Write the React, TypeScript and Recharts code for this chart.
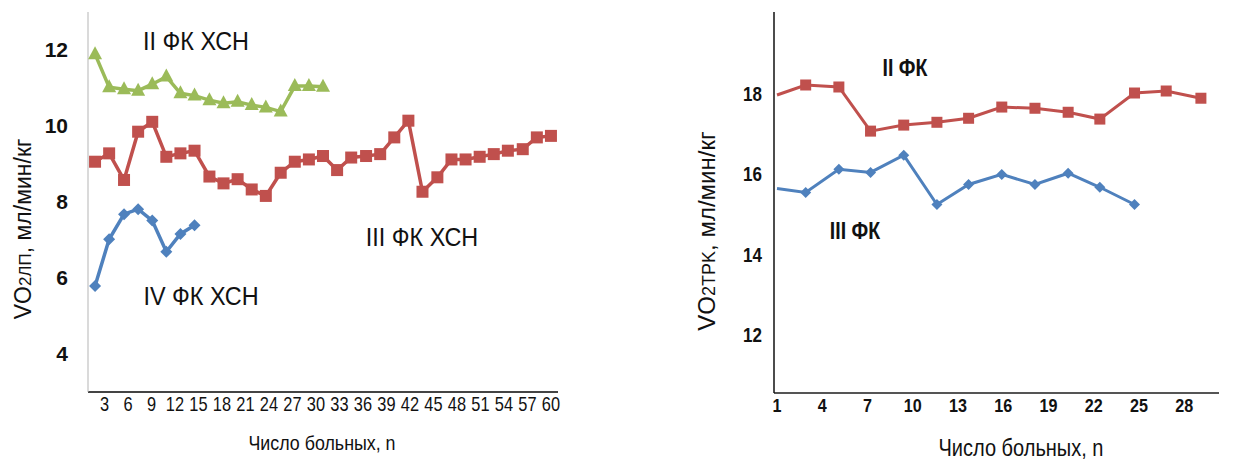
import { LineChart, Line, XAxis, YAxis, Customized } from "recharts";

// left chart: VO2 ЛП by number of patients, three FC groups
const leftN = [1.8, 3.6, 5.5, 7.3, 9.1, 10.9, 12.7, 14.5, 16.4, 18.2, 20, 21.8, 23.6, 25.5, 27.3, 29.1, 30.9, 32.7, 34.5, 36.4, 38.2, 40, 41.8, 43.6, 45.5, 47.3, 49.1, 50.9, 52.7, 54.5, 56.4, 58.2, 60];
const fc2Left = [11.89, 11.02, 10.97, 10.93, 11.1, 11.3, 10.86, 10.8, 10.68, 10.6, 10.64, 10.55, 10.49, 10.38, 11.05, 11.05, 11.03];
const fc3Left = [9.06, 9.28, 8.58, 9.85, 10.11, 9.19, 9.28, 9.35, 8.67, 8.49, 8.6, 8.33, 8.16, 8.77, 9.06, 9.12, 9.21, 8.84, 9.17, 9.21, 9.26, 9.7, 10.14, 8.27, 8.65, 9.12, 9.12, 9.19, 9.26, 9.35, 9.39, 9.7, 9.74];
const fc4Left = [5.79, 7.02, 7.68, 7.81, 7.51, 6.69, 7.16, 7.39];
const leftXTicks = [3, 6, 9, 12, 15, 18, 21, 24, 27, 30, 33, 36, 39, 42, 45, 48, 51, 54, 57, 60];
const leftYTicks = [4, 6, 8, 10, 12];

// right chart: VO2 ТРК
const rightN = [1, 2.9, 5.1, 7.2, 9.4, 11.6, 13.7, 15.9, 18.1, 20.3, 22.4, 24.7, 26.8, 29.1];
const fc2Right = [17.98, 18.23, 18.18, 17.08, 17.23, 17.3, 17.4, 17.68, 17.65, 17.55, 17.38, 18.03, 18.08, 17.9];
const fc3Right = [15.65, 15.55, 16.13, 16.05, 16.48, 15.25, 15.75, 16.0, 15.75, 16.03, 15.68, 15.25];
const rightXTicks = [1, 4, 7, 10, 13, 16, 19, 22, 25, 28];
const rightYTicks = [12, 14, 16, 18];

const GREEN = "#9BBB59";
const RED = "#C0504D";
const BLUE = "#4F81BD";
const sans = "'Liberation Sans', Arial, sans-serif";

const leftData = leftN.map((n, i) => ({ n, fc2: fc2Left[i], fc3: fc3Left[i], fc4: fc4Left[i] }));
const rightData = rightN.map((n, i) => ({ n, fc2: fc2Right[i], fc3: fc3Right[i] }));

const square = (color: string, s: number, skipFirst = false) => (p: any) => {
  if (p.cy == null || p.value == null || (skipFirst && p.index === 0)) return <g key={p.index} />;
  return <rect key={p.index} x={p.cx - s / 2} y={p.cy - s / 2} width={s} height={s} fill={color} />;
};
const triangle = (color: string) => (p: any) => {
  if (p.cy == null || p.value == null) return <g key={p.index} />;
  const { cx, cy } = p;
  return <polygon key={p.index} points={`${cx},${cy - 8} ${cx - 7},${cy + 5} ${cx + 7},${cy + 5}`} fill={color} />;
};
const diamond = (color: string, r: number, skipFirst = false) => (p: any) => {
  if (p.cy == null || p.value == null || (skipFirst && p.index === 0)) return <g key={p.index} />;
  const { cx, cy } = p;
  return <polygon key={p.index} points={`${cx},${cy - r} ${cx + r},${cy} ${cx},${cy + r} ${cx - r},${cy}`} fill={color} />;
};

// narrow text: no condensed Arial here, so squeeze Liberation Sans horizontally
const Narrow = ({ x, y, sx = 0.82, anchor = "middle", size = 20, bold = false, children }: any) => (
  <text transform={`translate(${x},${y}) scale(${sx},1)`} textAnchor={anchor} fontFamily={sans}
    fontSize={size} fontWeight={bold ? "bold" : "normal"} fill="#111">{children}</text>
);

const LeftXTick = (p: any) => <Narrow x={p.x} y={p.y + 19} size={20}>{p.payload.value}</Narrow>;
const LeftYTick = (p: any) => (
  <text x={p.x} y={p.y + 7} textAnchor="end" fontFamily={sans} fontWeight="bold" fontSize={21} fill="#111">{p.payload.value}</text>
);
const RightXTick = (p: any) => <Narrow x={p.x} y={p.y + 19} size={19} sx={0.85} bold>{p.payload.value}</Narrow>;
const RightYTick = (p: any) => <Narrow x={p.x} y={p.y + 7} size={20} sx={0.85} anchor="end" bold>{p.payload.value}</Narrow>;

const LeftText = () => (
  <g fill="#111">
    <text transform="translate(31,229) rotate(-90)" textAnchor="middle" fontFamily={sans} fontSize={23}>
      VO<tspan fontSize={17}>2ЛП</tspan>,  мл/мин/кг
    </text>
    <Narrow x={196} y={50} size={26} sx={0.9}>II ФК ХСН</Narrow>
    <Narrow x={422} y={246} size={26} sx={0.9}>III ФК ХСН</Narrow>
    <Narrow x={201} y={305} size={26} sx={0.9}>IV ФК ХСН</Narrow>
    <Narrow x={322} y={450} size={21} sx={0.85}>Число больных, n</Narrow>
  </g>
);

const RightText = () => (
  <g fill="#111">
    <text transform="translate(25,231) rotate(-90)" textAnchor="middle" fontFamily={sans} fontSize={24}>
      VO<tspan fontSize={18}>2TPK</tspan>,  мл/мин/кг
    </text>
    <Narrow x={215} y={76} size={23} sx={0.85} bold>II ФК</Narrow>
    <Narrow x={165} y={239} size={23} sx={0.85} bold>III ФК</Narrow>
    <Narrow x={331} y={456} size={23} sx={0.87}>Число больных, n</Narrow>
  </g>
);

export default function App() {
  return (
    <div style={{ position: "absolute", left: 0, top: 0, width: 1248, height: 461, background: "#fff" }}>
      <div style={{ position: "absolute", left: 0, top: 0 }}>
        <LineChart width={600} height={461} data={leftData} margin={{ top: 12, right: 42, left: 0, bottom: 0 }}>
          <XAxis dataKey="n" type="number" domain={[0.9, 60.9]} ticks={leftXTicks} interval={0}
            height={69} tickSize={0} tickMargin={0} tick={LeftXTick}
            axisLine={{ stroke: "#444", strokeWidth: 2 }} allowDataOverflow />
          <YAxis type="number" domain={[3, 13]} ticks={leftYTicks} width={88} tickSize={0} tickMargin={20}
            tick={LeftYTick} axisLine={{ stroke: "#b5b5b5", strokeWidth: 1 }} allowDataOverflow />
          <Line dataKey="fc2" stroke={GREEN} strokeWidth={3.5} dot={triangle(GREEN)} isAnimationActive={false} />
          <Line dataKey="fc3" stroke={RED} strokeWidth={3.5} dot={square(RED, 12)} isAnimationActive={false} />
          <Line dataKey="fc4" stroke={BLUE} strokeWidth={3.5} dot={diamond(BLUE, 6)} isAnimationActive={false} />
          <Customized component={LeftText} />
        </LineChart>
      </div>
      <div style={{ position: "absolute", left: 690, top: 0 }}>
        <LineChart width={558} height={461} data={rightData} margin={{ top: 12, right: 29, left: 0, bottom: 0 }}>
          <XAxis dataKey="n" type="number" domain={[0.8, 30.3]} ticks={rightXTicks} interval={0}
            height={68} tickSize={0} tickMargin={0} tick={RightXTick}
            axisLine={{ stroke: "#555", strokeWidth: 2 }} allowDataOverflow />
          <YAxis type="number" domain={[10.55, 20.05]} ticks={rightYTicks} width={84} tickSize={0} tickMargin={12}
            tick={RightYTick} axisLine={{ stroke: "#111", strokeWidth: 1.5 }} allowDataOverflow />
          <Line dataKey="fc2" stroke={RED} strokeWidth={3} dot={square(RED, 11, true)} isAnimationActive={false} />
          <Line dataKey="fc3" stroke={BLUE} strokeWidth={3} dot={diamond(BLUE, 5.5, true)} isAnimationActive={false} />
          <Customized component={RightText} />
        </LineChart>
      </div>
    </div>
  );
}
